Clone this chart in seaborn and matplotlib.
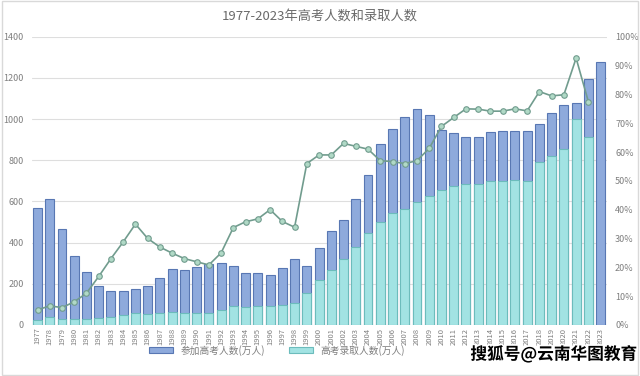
import numpy as np
import pandas as pd
import matplotlib
matplotlib.use("Agg")
import matplotlib.pyplot as plt
import matplotlib.patheffects as pe
from matplotlib.ticker import PercentFormatter, MultipleLocator
import seaborn as sns

# --- data ---
years = list(range(1977, 2024))
applicants = [570, 610, 468, 333, 259, 187, 167, 164, 176, 191,
              228, 272, 266, 283, 296, 303, 286, 251, 253, 241,
              278, 320, 288, 375, 454, 510, 613, 729, 877, 950,
              1010, 1050, 1020, 946, 933, 915, 912, 939, 942, 942,
              942, 975, 1031, 1071, 1078, 1193, 1280]
admitted = [24, 36, 28, 28, 28, 32, 39, 46, 57, 55,
            57, 63, 59, 60, 60, 73, 92, 88, 90, 92,
            97, 104, 157, 219, 266, 318, 378, 447, 502, 544,
            563, 598, 628, 655, 673, 683, 686, 697, 700, 702,
            700, 790, 819, 856, 1000, 915, np.nan]
rate = [5.2, 6.6, 6.0, 8.0, 11.0, 16.8, 23.0, 28.8, 35.0, 30.0,
        27.0, 24.9, 23.0, 21.9, 20.8, 25.0, 33.8, 35.8, 36.8, 40.0,
        35.9, 33.9, 56.0, 59.0, 59.0, 63.0, 62.0, 61.0, 57.0, 56.7,
        56.0, 57.0, 61.3, 68.9, 72.0, 75.0, 74.9, 74.2, 74.2, 75.0,
        74.3, 81.0, 79.5, 79.9, 92.6, 77.5, np.nan]

df = pd.DataFrame({
    "year": [str(y) for y in years],
    "applicants": applicants,
    "admitted": admitted,
    "rate": np.array(rate) / 100,
})
order = df["year"].tolist()

sns.set_theme(style="white")
plt.rcParams["font.family"] = ["Noto Sans CJK SC", "DejaVu Sans"]

fig = plt.figure(figsize=(6.4, 3.76), dpi=100)
ax = fig.add_axes([0.05, 0.136, 0.898, 0.766])

sns.barplot(data=df, x="year", y="applicants", order=order, ax=ax,
            color="#8eaadc", edgecolor="#5877b3", linewidth=0.8,
            width=0.73, saturation=1, label="参加高考人数(万人)")
sns.barplot(data=df, x="year", y="admitted", order=order, ax=ax,
            color="#a2e3e3", edgecolor="#6cbcbc", linewidth=0.8,
            width=0.73, saturation=1, label="高考录取人数(万人)")

handles, labels = ax.get_legend_handles_labels()
if ax.get_legend() is not None:
    ax.get_legend().remove()

ax2 = ax.twinx()
sns.lineplot(x=df.index, y=df["rate"], ax=ax2, color="#719c8e", lw=1.2,
             marker="o", markersize=4, markerfacecolor="#b0d9c6",
             markeredgecolor="#719c8e", markeredgewidth=0.8, legend=False)

ax.set_xlim(-0.45, 46.5)
ax.set_ylim(0, 1400)
ax.yaxis.set_major_locator(MultipleLocator(200))
ax2.set_ylim(0, 1)
ax2.yaxis.set_major_locator(MultipleLocator(0.1))
ax2.yaxis.set_major_formatter(PercentFormatter(1, decimals=0))

ax.yaxis.grid(True, color="#dedede", lw=0.8)
ax.set_axisbelow(True)
ax.set_xlabel("")
ax.set_ylabel("")
ax2.set_ylabel("")

ax.tick_params(axis="x", labelrotation=90, labelsize=5.5, colors="#7f7f7f", length=0, pad=2)
ax.tick_params(axis="y", labelsize=6.5, colors="#7f7f7f", length=0, pad=6)
ax2.tick_params(axis="y", labelsize=6.5, colors="#7f7f7f", length=0, pad=6)

for a in (ax, ax2):
    for s in a.spines.values():
        s.set_visible(False)

fig.text(0.5, 0.958, "1977-2023年高考人数和录取人数", ha="center", va="center",
         fontsize=9.5, color="#6a6a6a")

fig.legend(handles, labels, loc="center", bbox_to_anchor=(0.433, 0.069),
           ncol=2, frameon=False, fontsize=7, handlelength=2.4,
           handleheight=0.7, columnspacing=2.5, labelcolor="#7f7f7f")

fig.text(0.995, 0.058, "搜狐号@云南华图教育", ha="right", va="center",
         fontsize=12, fontweight="bold", color="black",
         path_effects=[pe.withStroke(linewidth=2.5, foreground="white")])

fig.patches.append(plt.Rectangle((0.003, 0.003), 0.994, 0.994, transform=fig.transFigure,
                                 fill=False, edgecolor="#d9d9d9", lw=1))

fig.savefig("out.png", dpi=100)
